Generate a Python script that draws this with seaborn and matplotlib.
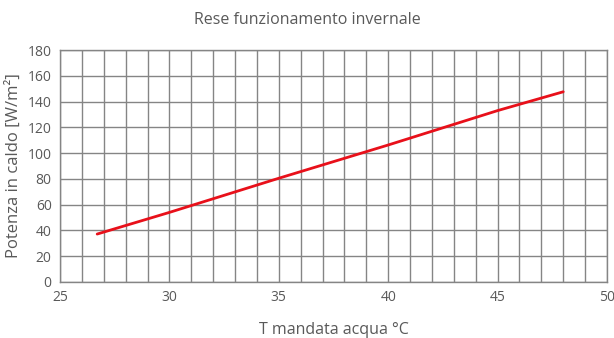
import matplotlib
matplotlib.use("Agg")
import matplotlib.pyplot as plt
import seaborn as sns
import pandas as pd
import numpy as np

# Data
t_mandata = [26.7, 30, 35, 40, 45, 48]
potenza = [37.2, 54, 80.5, 106.3, 133, 147.6]

x_ticks = [25, 30, 35, 40, 45, 50]
y_ticks = [0, 20, 40, 60, 80, 100, 120, 140, 160, 180]

title = "Rese funzionamento invernale"
xlabel = "T mandata acqua °C"
ylabel = "Potenza in caldo [W/m²]"

sns.set_theme(style="white")
plt.rcParams['font.family'] = ['Open Sans', 'DejaVu Sans']

df = pd.DataFrame({"T": t_mandata, "P": potenza})

fig = plt.figure(figsize=(6.14, 3.38), dpi=100)
ax = fig.add_axes([0.0977, 0.1657, 0.8909, 0.6863])

grid_c = "#858585"
text_c = "#595959"

sns.lineplot(data=df, x="T", y="P", ax=ax, color="#E8101A", linewidth=2.0, zorder=3)

ax.set_xlim(25, 50)
ax.set_ylim(0, 180)
ax.set_xticks(x_ticks)
ax.set_xticks(np.arange(25, 51, 1), minor=True)
ax.set_yticks(y_ticks)
ax.grid(which="major", axis="y", color=grid_c, linewidth=1.0)
ax.grid(which="minor", axis="x", color=grid_c, linewidth=1.0)
ax.grid(which="major", axis="x", color=grid_c, linewidth=1.0)
ax.tick_params(which="both", length=0, labelsize=10, labelcolor=text_c, pad=6)
for s in ax.spines.values():
    s.set_color(grid_c)
    s.set_linewidth(1.0)

ax.set_xlabel(xlabel, fontsize=11.5, color=text_c, labelpad=12)
ax.set_ylabel(ylabel, fontsize=12, color=text_c, labelpad=4)
fig.text(0.5, 0.94, title, ha="center", va="center", fontsize=11.5, color=text_c)

fig.savefig("out.png", dpi=100)
